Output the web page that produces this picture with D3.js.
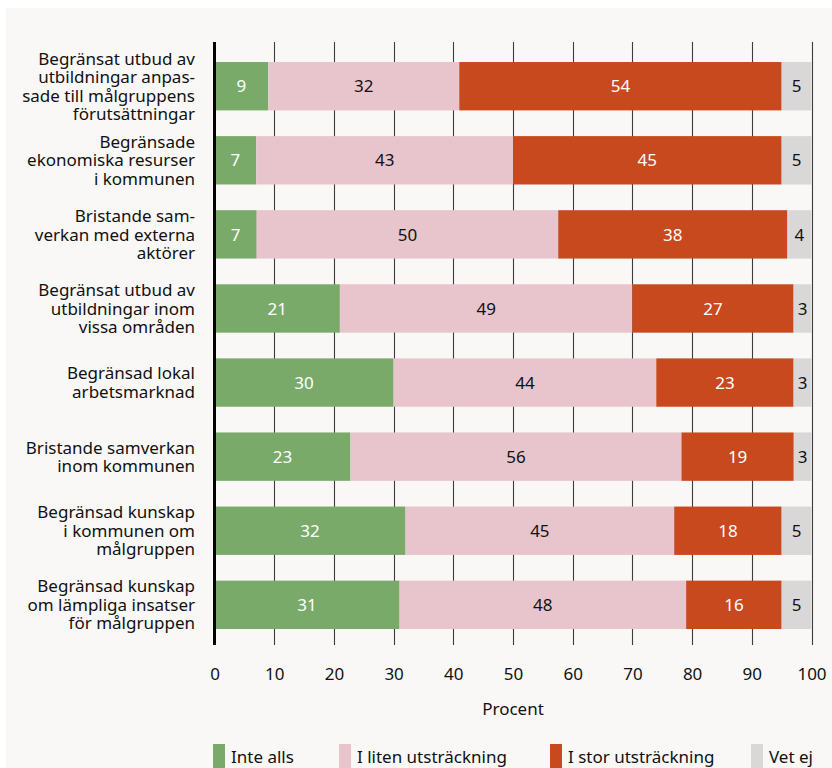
<!DOCTYPE html>
<html><head><meta charset="utf-8">
<script src="https://cdn.jsdelivr.net/npm/d3@7"></script>
<style>
html,body{margin:0;padding:0;background:#fff;}
svg{display:block;font-family:"Noto Sans",sans-serif;}
</style></head>
<body>
<script>
const categories = [
  ["Begränsat utbud av","utbildningar anpas-","sade till målgruppens","förutsättningar"],
  ["Begränsade","ekonomiska resurser","i kommunen"],
  ["Bristande sam-","verkan med externa","aktörer"],
  ["Begränsat utbud av","utbildningar inom","vissa områden"],
  ["Begränsad lokal","arbetsmarknad"],
  ["Bristande samverkan","inom kommunen"],
  ["Begränsad kunskap","i kommunen om","målgruppen"],
  ["Begränsad kunskap","om lämpliga insatser","för målgruppen"]
];
const seriesNames = ["Inte alls","I liten utsträckning","I stor utsträckning","Vet ej"];
const inteAlls = [9,7,7,21,30,23,32,31];
const litenUtstr = [32,43,50,49,44,56,45,48];
const storUtstr = [54,45,38,27,23,19,18,16];
const vetEj = [5,5,4,3,3,3,5,5];
const xTicks = [0,10,20,30,40,50,60,70,80,90,100];
const xTitle = "Procent";

const colors = ["#7aaa6a","#e8c5cc","#c8491e","#d9d7d8"];
const textColors = ["#fff","#111","#fff","#111"];
const FS = 17;

const W=832,H=768;
const svg=d3.select("body").append("svg").attr("width",W).attr("height",H);
svg.append("rect").attr("x",6).attr("y",8).attr("width",W-6).attr("height",H-8).attr("fill","#f9f8f6");

const rows = categories.map((c,i)=>({i, "Inte alls":inteAlls[i],"I liten utsträckning":litenUtstr[i],"I stor utsträckning":storUtstr[i],"Vet ej":vetEj[i]}));
const stack = d3.stack().keys(seriesNames).offset(d3.stackOffsetExpand);
const stacked = stack(rows);

const x = d3.scaleLinear().domain([0,100]).range([214.5,811.5]);
const y = d3.scaleBand().domain(d3.range(categories.length)).range([42,645]).paddingInner(0.347).paddingOuter(0.243).align(0.556);

// grid lines
const g = svg.append("g");
g.selectAll("line.grid").data(xTicks.filter(t=>t>0)).join("line")
  .attr("x1",d=>Math.round(x(d))+0.5).attr("x2",d=>Math.round(x(d))+0.5)
  .attr("y1",42).attr("y2",645).attr("stroke","#3c3c3c").attr("stroke-width",1.1);

// bars
const layer = g.selectAll("g.layer").data(stacked).join("g").attr("fill",(d,i)=>colors[i]);
layer.selectAll("rect").data(d=>d).join("rect")
  .attr("x",d=>x(d[0]*100)).attr("width",d=>x(d[1]*100)-x(d[0]*100))
  .attr("y",d=>y(d.data.i)).attr("height",y.bandwidth());

// value labels
stacked.forEach((s,si)=>{
  g.selectAll(null).data(s).join("text")
    .attr("x",d=>(x(d[0]*100)+x(d[1]*100))/2)
    .attr("y",d=>y(d.data.i)+y.bandwidth()/2)
    .attr("dy","0.36em").attr("text-anchor","middle")
    .attr("font-size",FS).attr("fill",textColors[si])
    .text(d=>d.data[s.key]);
});

// zero axis line
g.append("line").attr("x1",x(0)).attr("x2",x(0)).attr("y1",42).attr("y2",645)
  .attr("stroke","#000").attr("stroke-width",3);

// x axis tick labels
const xAxis = d3.axisBottom(x).tickValues(xTicks).tickSize(0).tickPadding(0);
const ax = svg.append("g").attr("transform","translate(0,666)").call(xAxis);
ax.select(".domain").remove();
ax.selectAll("text").attr("font-size",FS).attr("fill","#111").attr("font-family","'Noto Sans',sans-serif").attr("dy","0.85em");

svg.append("text").attr("x",(x(0)+x(100))/2).attr("y",715).attr("text-anchor","middle")
  .attr("font-size",FS).attr("fill","#111").text(xTitle);

// category labels
const lh=18.5;
categories.forEach((lines,i)=>{
  const cy = y(i)+y.bandwidth()/2;
  const t = svg.append("text").attr("text-anchor","end").attr("font-size",FS).attr("fill","#111");
  lines.forEach((ln,j)=>{
    t.append("tspan").attr("x",195).attr("y",cy+(j-(lines.length-1)/2)*lh).attr("dy","0.36em").text(ln);
  });
});

// legend
const legendX = [213,339,550,751];
const lg = svg.append("g");
seriesNames.forEach((n,i)=>{
  lg.append("rect").attr("x",legendX[i]).attr("y",744).attr("width",12).attr("height",24).attr("fill",colors[i]);
  lg.append("text").attr("x",legendX[i]+18).attr("y",763).attr("font-size",FS).attr("fill","#111").text(n);
});
</script>
</body></html>
